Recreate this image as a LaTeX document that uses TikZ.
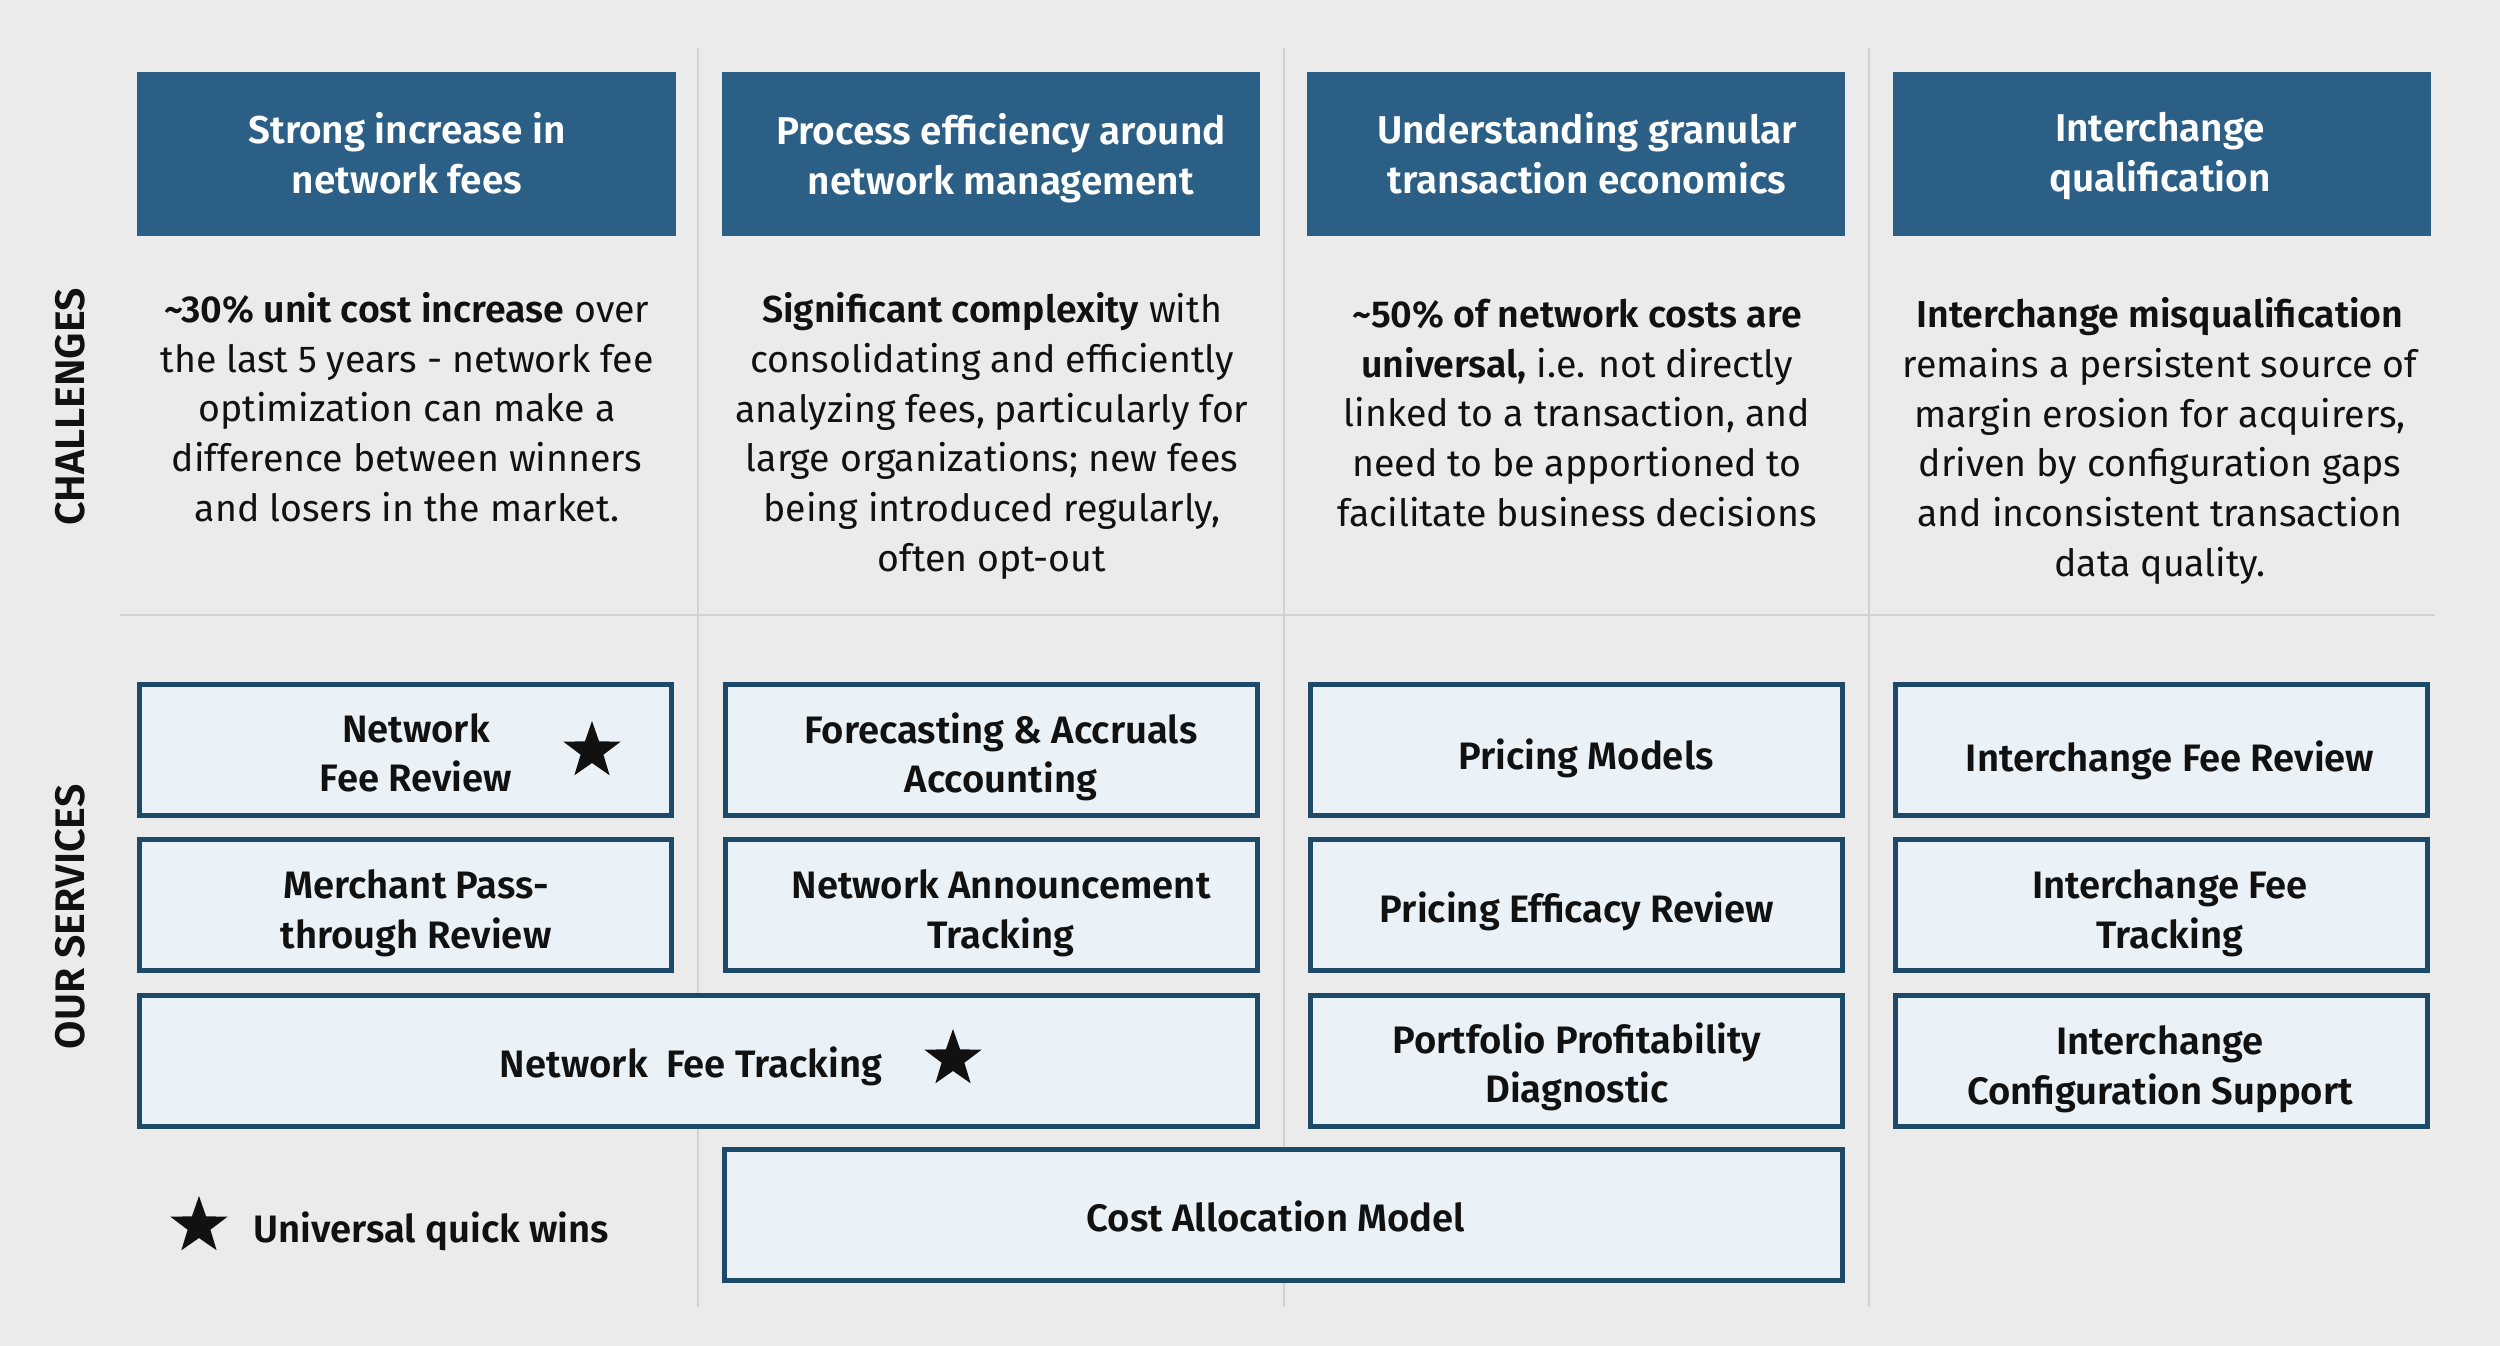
\documentclass[tikz,border=0pt]{standalone}
\usepackage{fontspec}
\setmainfont{Fira Sans}[BoldFont={Fira Sans SemiBold}]
\usetikzlibrary{shapes.geometric}
\definecolor{bg}{HTML}{EBEBEB}
\definecolor{hdr}{HTML}{2C5F86}
\definecolor{brd}{HTML}{1E4A69}
\definecolor{svc}{HTML}{EAF2F8}
\definecolor{divl}{HTML}{D2D2D2}
\definecolor{ink}{HTML}{111111}
\tikzset{
  hdrbox/.style={fill=hdr, draw=none, minimum width=215.2pt, minimum height=65.6pt, inner sep=0pt},
  hdrtext/.style={text=white, font=\bfseries\fontsize{15.5}{19.8}\selectfont, align=center, inner sep=0pt},
  svcbox/.style={fill=svc, draw=brd, line width=2pt, minimum height=52.4pt, inner sep=0pt},
  svcone/.style={svcbox, minimum width=212.8pt},
  svctwo/.style={svcbox, minimum width=447.2pt},
  svctext/.style={text=ink, font=\bfseries\fontsize{15.3}{19.8}\selectfont, align=center, inner sep=0pt},
  bodytext/.style={text=ink, font=\fontsize{15}{19.9}\selectfont, align=center, inner sep=0pt},
  sidelabel/.style={text=ink, font=\bfseries\fontsize{16.5}{16.5}\selectfont, rotate=90, inner sep=0pt},
  qstar/.style={star, star points=5, star point ratio=2.5, fill=ink, draw=none, minimum size=24pt, inner sep=0pt},
  divider/.style={draw=divl, line width=0.8pt}
}
\begin{document}
\begin{tikzpicture}[x=0.4pt,y=-0.4pt]
\fill[bg] (0,0) rectangle (2500,1346);
\useasboundingbox (0,0) rectangle (2500,1346);
% dividers
\draw[divider] (698,48) -- (698,1307);
\draw[divider] (1284,48) -- (1284,1307);
\draw[divider] (1869,48) -- (1869,1307);
\draw[divider] (120,615) -- (2435,615);
% side labels
\node[sidelabel] (labch) at (70,407) {\scalebox{1.0}[1]{CHALLENGES}};
\node[sidelabel] (labsv) at (70,917) {\scalebox{1.0}[1]{OUR SERVICES}};
% header boxes
\node[hdrbox] (h1) at (406.5,154) {};
\node[hdrbox] (h2) at (991,154) {};
\node[hdrbox] (h3) at (1576,154) {};
\node[hdrbox] (h4) at (2161.5,154) {};
\node[hdrtext] (h1t) at (407,153) {Strong increase in\\network fees};
\node[hdrtext] (h2t) at (1001,158) {Process efficiency around\\network management};
\node[hdrtext] (h3t) at (1587,153) {Understanding granular\\transaction economics};
\node[hdrtext] (h4t) at (2160,156) {Interchange\\qualification};
% challenge texts
\node[bodytext] (c1) at (407,407) {\textbf{\textasciitilde30\% unit cost increase} over\\the last 5 years - network fee\\optimization can make a\\difference between winners\\and losers in the market.};
\node[bodytext] (c2) at (992,436) {\textbf{Significant complexity} with\\consolidating and efficiently\\analyzing fees, particularly for\\large organizations; new fees\\being introduced regularly,\\often opt-out};
\node[bodytext] (c3) at (1577,413) {\textbf{\textasciitilde50\% of network costs are}\\\textbf{universal,} i.e. not directly\\linked to a transaction, and\\need to be apportioned to\\facilitate business decisions};
\node[bodytext] (c4) at (2160,441) {\textbf{Interchange misqualification}\\remains a persistent source of\\margin erosion for acquirers,\\driven by configuration gaps\\and inconsistent transaction\\data quality.};
% service boxes
\node[svcone] (s11) at (405.5,750) {};
\node[svcone] (s12) at (405.5,905) {};
\node[svctwo] (s13) at (698.5,1060.5) {};
\node[svcone] (s21) at (991,750) {};
\node[svcone] (s22) at (991,905) {};
\node[svcone] (s31) at (1576,750) {};
\node[svcone] (s32) at (1576,905) {};
\node[svcone] (s33) at (1576,1060.5) {};
\node[svctwo] (s34) at (1283.5,1214.5) {};
\node[svcone] (s41) at (2161.5,750) {};
\node[svcone] (s42) at (2161.5,905) {};
\node[svcone] (s43) at (2161.5,1060.5) {};
% service texts
\node[svctext] (t11) at (416,753) {Network\\Fee Review};
\node[svctext] (t12) at (416,913) {Merchant Pass-\\through Review};
\node[svctext] (t13) at (691,1066) {Network\ \ Fee Tracking};
\node[svctext] (t21) at (1001,757) {Forecasting \& Accruals\\Accounting};
\node[svctext] (t22) at (1001,913) {Network Announcement\\Tracking};
\node[svctext] (t31) at (1586,758) {Pricing Models};
\node[svctext] (t32) at (1577,911) {Pricing Efficacy Review};
\node[svctext] (t33) at (1577,1067) {Portfolio Profitability\\Diagnostic};
\node[svctext] (t34) at (1276,1216) {Cost Allocation Model};
\node[svctext] (t41) at (2170,760) {Interchange Fee Review};
\node[svctext] (t42) at (2170,913) {Interchange Fee\\Tracking};
\node[svctext] (t43) at (2160,1069) {Interchange\\Configuration Support};
% stars
\node[qstar] (st1) at (592,751) {};
\node[qstar] (st2) at (953,1059) {};
\node[qstar] (st3) at (199,1226) {};
\node[svctext, anchor=west] (leg) at (253,1231) {Universal quick wins};
\end{tikzpicture}
\end{document}
